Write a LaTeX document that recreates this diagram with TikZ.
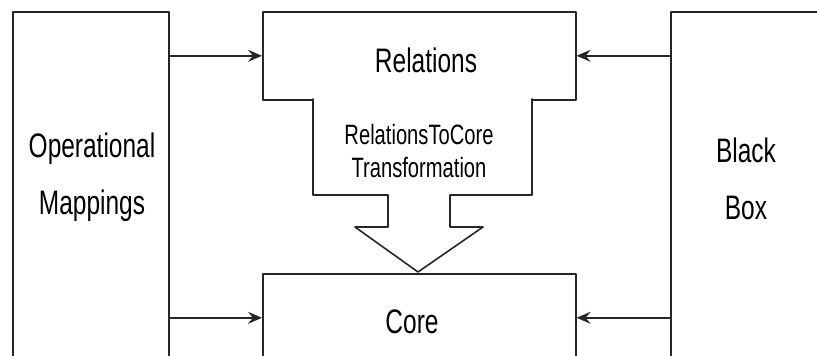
\documentclass[tikz,border=0pt]{standalone}
\usepackage{fontspec}
\setmainfont{Liberation Sans}[FakeStretch=0.72]
\usetikzlibrary{arrows.meta}
\begin{document}
\begin{tikzpicture}[x=1pt, y=-1pt, >={Stealth[length=14pt,width=12pt,inset=5pt]}, line join=round, line cap=round,
	box/.style={draw=black!85, line width=1.6pt, fill=white, inner sep=0pt, anchor=north west},
	bigtext/.style={align=center, font=\fontsize{34}{57}\selectfont},
	smalltext/.style={align=center, font=\fontsize{28}{33}\selectfont},
	arr/.style={->, draw=black!85, line width=1.6pt}]
	\useasboundingbox (0,0) rectangle (817,356);
	\clip (0,0) rectangle (817,356);
	\node[box, minimum width=156, minimum height=400] (ops) at (12,11) {};
	\node[box, minimum width=200, minimum height=400] (bb) at (670,11) {};
	\node[box, minimum width=313, minimum height=88] (rel) at (262,11) {};
	\node[box, minimum width=313, minimum height=88] (core) at (262,273) {};
	\path 
	(313,99) coordinate (T1)
	(313,195) coordinate (T2)
	(388,195) coordinate (T3)
	(388,227) coordinate (T4)
	(355,227) coordinate (T5)
	(418,272) coordinate (T6)
	(483,227) coordinate (T7)
	(450,227) coordinate (T8)
	(450,195) coordinate (T9)
	(532,195) coordinate (T10)
	(532,99) coordinate (T11)
	;
	\draw[draw=black!85, line width=1.6pt, fill=white] (T1)--(T2)--(T3)--(T4)--(T5)--(T6)--(T7)--(T8)--(T9)--(T10)--(T11);
	\node[bigtext] (opslabel) at (92,177) {Operational\\Mappings};
	\node[bigtext] (bblabel) at (746,179) {Black\\Box};
	\node[bigtext, anchor=base] (rellabel) at (426,72) {Relations};
	\node[bigtext, anchor=base] (corelabel) at (412,333) {Core};
	\node[smalltext] (translabel) at (419,151) {RelationsToCore\\Transformation};
	\draw[arr] (ops.east |- rel.west) -- (rel.west);
	\draw[arr] (ops.east |- core.west) -- (core.west);
	\draw[arr] (bb.west |- rel.east) -- (rel.east);
	\draw[arr] (bb.west |- core.east) -- (core.east);
\end{tikzpicture}
\end{document}
